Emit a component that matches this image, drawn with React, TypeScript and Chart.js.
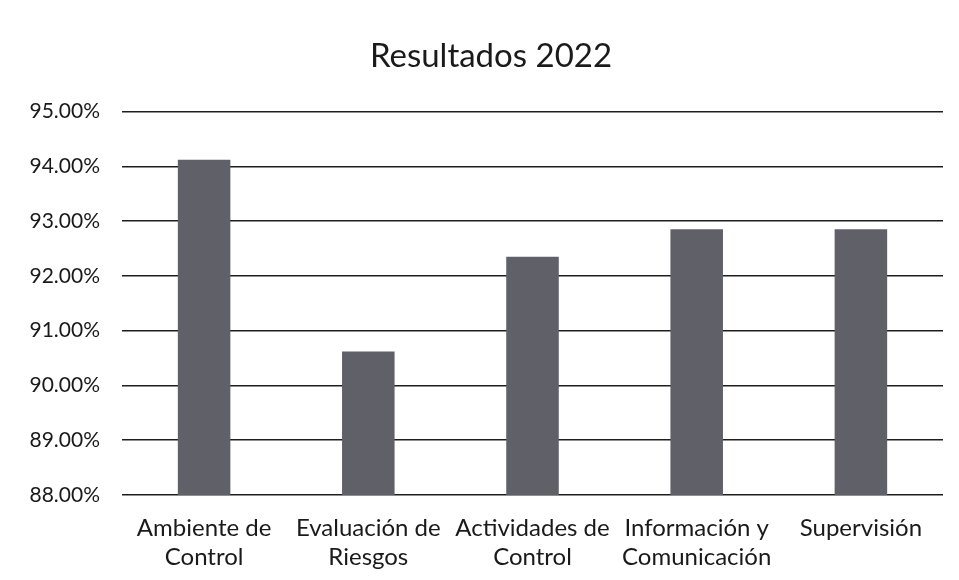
import React, { useEffect, useRef } from "react";
import { Chart, registerables } from "chart.js";

Chart.register(...registerables);

const categories: (string | string[])[] = [
  ["Ambiente de", "Control"],
  ["Evaluación de", "Riesgos"],
  ["Actividades de", "Control"],
  ["Información y", "Comunicación"],
  "Supervisión",
];
const values: number[] = [94.12, 90.62, 92.35, 92.85, 92.85];
const yMin = 88;
const yMax = 95;
const title = "Resultados 2022";

export default function App() {
  const ref = useRef<HTMLCanvasElement | null>(null);
  useEffect(() => {
    if (!ref.current) return;
    const font = "Lato, 'Open Sans', sans-serif";
    const titleShift = {
      id: "titleShift",
      afterLayout(chart: any) {
        if (chart.titleBlock) chart.titleBlock.left = 39;
      },
    };
    const chart = new Chart(ref.current, {
      type: "bar",
      data: {
        labels: categories,
        datasets: [
          {
            data: values,
            backgroundColor: "#606168",
            borderWidth: 0,
            categoryPercentage: 1,
            barPercentage: 0.32,
          },
        ],
      },
      options: {
        animation: false,
        responsive: false,
        maintainAspectRatio: false,
        layout: { padding: { left: 5, right: 16, top: 0, bottom: 0 } },
        plugins: {
          legend: { display: false },
          tooltip: { enabled: false },
          title: {
            display: true,
            text: title,
            color: "#1a1a1a",
            font: { family: font, size: 33, weight: "normal" },
            padding: { top: 37, bottom: 35 },
          },
        },
        scales: {
          x: {
            grid: { display: false, drawTicks: false },
            border: { display: false },
            ticks: {
              color: "#1a1a1a",
              font: { family: font, size: 24 },
              padding: 19,
              maxRotation: 0,
              autoSkip: false,
            },
            afterFit: (scale: any) => {
              scale.height = 85;
            },
          },
          y: {
            min: yMin,
            max: yMax,
            grid: { color: "#1e1e1e", lineWidth: 1.5, drawTicks: false },
            border: { display: false },
            ticks: {
              stepSize: 1,
              color: "#1a1a1a",
              font: { family: font, size: 21 },
              padding: 22,
              callback: (v: any) => Number(v).toFixed(2) + "%",
            },
            afterFit: (scale: any) => {
              scale.width = 117;
            },
          },
        },
      },
      plugins: [titleShift],
    } as any);
    return () => chart.destroy();
  }, []);
  return (
    <div style={{ position: "fixed", left: 0, top: 0, width: 959, height: 580, background: "#fff" }}>
      <canvas ref={ref} width={959} height={580} style={{ width: 959, height: 580 }} />
    </div>
  );
}
